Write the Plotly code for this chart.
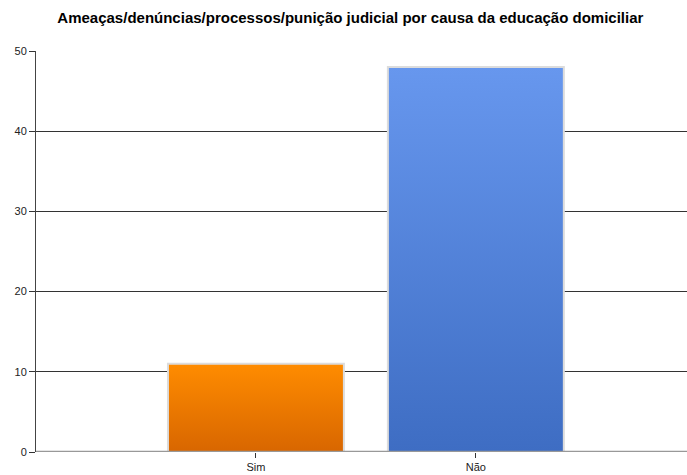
import plotly.graph_objects as go

# data
categories = ["Sim", "Não"]
values = [11, 48]
top_colors = ["#FF8C00", "#6797EE"]
bottom_colors = ["#D86600", "#3E6DC3"]

title = "Ameaças/denúncias/processos/punição judicial por causa da educação domiciliar"

half = 0.4  # half bar width, in category units

fig = go.Figure()
for i, (cat, val) in enumerate(zip(categories, values)):
    fig.add_trace(
        go.Scatter(
            x=[i - half, i - half, i + half, i + half, i - half],
            y=[0, val, val, 0, 0],
            mode="lines",
            fill="toself",
            fillgradient=dict(
                type="vertical",
                colorscale=[[0, bottom_colors[i]], [1, top_colors[i]]],
            ),
            line=dict(color="#DCDCDC", width=2),
            name=cat,
            hoverinfo="name+y",
        )
    )

fig.update_layout(
    width=687,
    height=475,
    margin=dict(l=36, r=0, t=51, b=23),
    paper_bgcolor="white",
    plot_bgcolor="white",
    showlegend=False,
    font=dict(family="Liberation Sans, Arial, sans-serif", size=11, color="#222"),
    title=dict(
        text="<b>" + title + "</b>",
        x=0.51,
        xanchor="center",
        y=0.962,
        yanchor="middle",
        font=dict(size=15, color="#000"),
    ),
    xaxis=dict(
        range=[-1, 1.96],
        tickmode="array",
        tickvals=list(range(len(categories))),
        ticktext=categories,
        ticks="outside",
        ticklen=5,
        tickcolor="#333",
        showgrid=False,
        zeroline=False,
        showline=False,
        fixedrange=True,
    ),
    yaxis=dict(
        range=[0, 50],
        tickvals=[0, 10, 20, 30, 40, 50],
        ticks="outside",
        ticklen=6,
        tickcolor="#333",
        showgrid=True,
        gridcolor="#333",
        gridwidth=1,
        zeroline=False,
        showline=True,
        linecolor="#444",
        linewidth=1,
        fixedrange=True,
    ),
)

# grey baseline at zero
fig.add_hline(y=0, line=dict(color="#999", width=2.5), layer="above")

# drop the page's default body margin so the chart sits at the top-left corner
fig.write_html(
    "out.html",
    config={"displayModeBar": False},
    post_script="document.body.style.margin='0';",
)
